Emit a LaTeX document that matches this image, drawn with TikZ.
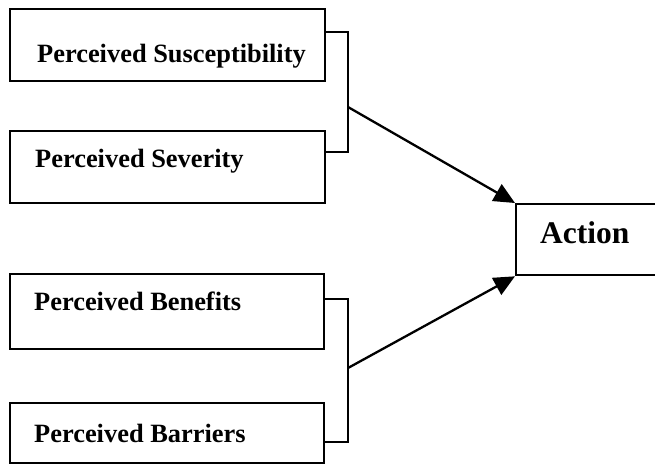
\documentclass[tikz,border=0pt]{standalone}
\usepackage{fontspec}
\setmainfont{Liberation Serif}
\usetikzlibrary{arrows.meta,calc}
\begin{document}
\begin{tikzpicture}[x=1pt,y=-1pt,
  box/.style={draw, line width=2.3pt, inner sep=0pt, anchor=north west},
  lbl/.style={anchor=base west, inner sep=0pt, font=\bfseries\fontsize{26.4}{30}\selectfont},
  biglbl/.style={anchor=base west, inner sep=0pt, font=\bfseries\fontsize{31.5}{36}\selectfont},
  link/.style={line width=2.3pt},
  arr/.style={line width=2.3pt, -{Triangle[length=21pt,width=19pt]}}]
\useasboundingbox (0,0) rectangle (655,474);

% factor boxes
\node[box, minimum width=315pt, minimum height=72pt] (sus) at (9,8) {};
\node[box, minimum width=315pt, minimum height=72pt] (sev) at (9,130) {};
\node[box, minimum width=314pt, minimum height=75pt] (ben) at (9,273) {};
\node[box, minimum width=314pt, minimum height=60pt] (bar) at (9,402) {};
% outcome box, open to the right
\node[box, minimum width=170pt, minimum height=71pt] (act) at (515,203) {};

% labels
\node[lbl] (tsus) at (37,62) {Perceived Susceptibility};
\node[lbl] (tsev) at (35,167) {Perceived Severity};
\node[lbl] (tben) at (34,310) {Perceived Benefits};
\node[lbl] (tbar) at (34,442) {Perceived Barriers};
\node[biglbl] (tact) at (540,243) {Action};

% brackets joining the pairs
\coordinate (j1) at (348,107);
\coordinate (j2) at (348,368);
\draw[link] ($(sus.north east)+(0,24)$) -| (j1) |- ($(sev.north east)+(0,22)$);
\draw[link] ($(ben.north east)+(0,26)$) -| (j2) |- ($(bar.north east)+(0,40)$);

% arrows into the outcome
\draw[arr] (j1) -- (act.north west);
\draw[arr] (j2) -- (act.south west);
\end{tikzpicture}
\end{document}
